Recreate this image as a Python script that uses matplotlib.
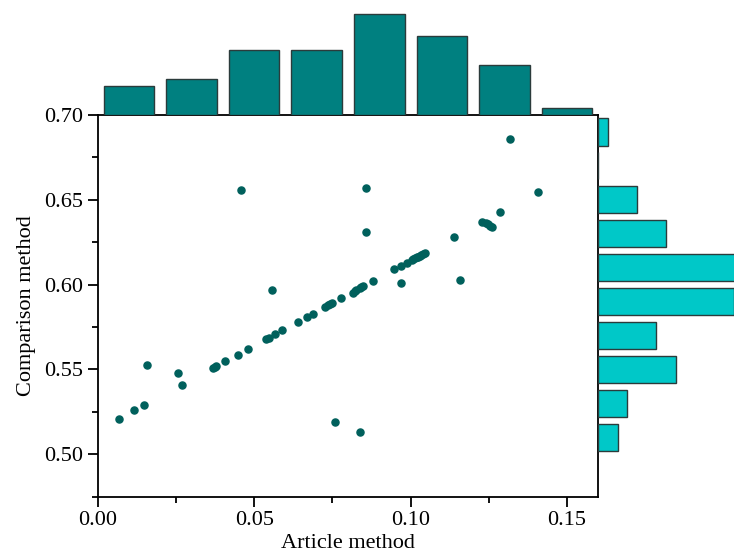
import numpy as np
import matplotlib
matplotlib.use('Agg')
import matplotlib.pyplot as plt
from matplotlib.ticker import MultipleLocator

plt.rcParams['font.family'] = ['Liberation Serif', 'DejaVu Serif']

# Article method (x) and comparison method (y) values
article = [0.0068, 0.0117, 0.0149, 0.0159, 0.0258, 0.0268, 0.0458, 0.0369, 0.0379, 0.0408,
           0.0448, 0.0479, 0.0538, 0.0548, 0.0568, 0.0589, 0.0558, 0.0639, 0.0669, 0.0689,
           0.0727, 0.0737, 0.0749, 0.0779, 0.0758, 0.0816, 0.0827, 0.0838, 0.0849, 0.0879,
           0.0859, 0.0859, 0.0838, 0.0948, 0.0968, 0.0989, 0.1008, 0.1019, 0.1029, 0.1040,
           0.0968, 0.1138, 0.1159, 0.1229, 0.1247, 0.1259, 0.1287, 0.1319, 0.1408,
           0.1242, 0.1253, 0.0744, 0.0822, 0.0843, 0.1003, 0.1013, 0.1024, 0.1034, 0.1045,
           0.0374]
comparison = [0.5208, 0.5259, 0.5290, 0.5528, 0.5478, 0.5410, 0.6559, 0.5508, 0.5520, 0.5549,
              0.5588, 0.5620, 0.5681, 0.5688, 0.5710, 0.5731, 0.5969, 0.5778, 0.5810, 0.5829,
              0.5871, 0.5880, 0.5892, 0.5919, 0.5188, 0.5953, 0.5969, 0.5980, 0.5992, 0.6020,
              0.6571, 0.6310, 0.5129, 0.6090, 0.6110, 0.6129, 0.6149, 0.6161, 0.6171, 0.6181,
              0.6010, 0.6281, 0.6029, 0.6371, 0.6357, 0.6339, 0.6431, 0.6861, 0.6549,
              0.6365, 0.6348, 0.5885, 0.5961, 0.5986, 0.6144, 0.6155, 0.6166, 0.6176, 0.6185,
              0.5514]

x_bins = np.arange(0, 0.161, 0.02)
y_bins = np.arange(0.50, 0.701, 0.02)

fig = plt.figure(figsize=(7.34, 5.6), dpi=100)
ax = fig.add_axes([0.1331, 0.113, 0.682, 0.6816])
ax_top = fig.add_axes([0.1331, 0.7946, 0.682, 0.2054], sharex=ax)
ax_right = fig.add_axes([0.8151, 0.113, 0.1849, 0.6816], sharey=ax)

ax.scatter(article, comparison, s=26, color='#00605c', zorder=3)
ax.set_xlim(0, 0.16)
ax.set_ylim(0.475, 0.70)
ax.xaxis.set_major_locator(MultipleLocator(0.05))
ax.xaxis.set_minor_locator(MultipleLocator(0.025))
ax.yaxis.set_major_locator(MultipleLocator(0.05))
ax.yaxis.set_minor_locator(MultipleLocator(0.025))
ax.xaxis.set_major_formatter(plt.FormatStrFormatter('%.2f'))
ax.yaxis.set_major_formatter(plt.FormatStrFormatter('%.2f'))
ax.tick_params(which='major', direction='out', length=7, width=1.3, labelsize=16)
ax.tick_params(which='minor', direction='out', length=4, width=1.3)
for s in ax.spines.values():
    s.set_linewidth(1.3)
ax.set_xlabel('Article method', fontsize=16, labelpad=3)
ax.set_ylabel('Comparison method', fontsize=16, labelpad=6)

ax_top.hist(article, bins=x_bins, rwidth=0.81, color='#008080',
            edgecolor='#2b3b3b', linewidth=1)
ax_top.set_ylim(0, 16)
ax_top.axis('off')

ax_right.hist(comparison, bins=y_bins, rwidth=0.8, orientation='horizontal',
              color='#00c8c8', edgecolor='#2b3b3b', linewidth=1)
ax_right.set_xlim(0, 14)
ax_right.axis('off')

fig.savefig('out.png', dpi=100)
